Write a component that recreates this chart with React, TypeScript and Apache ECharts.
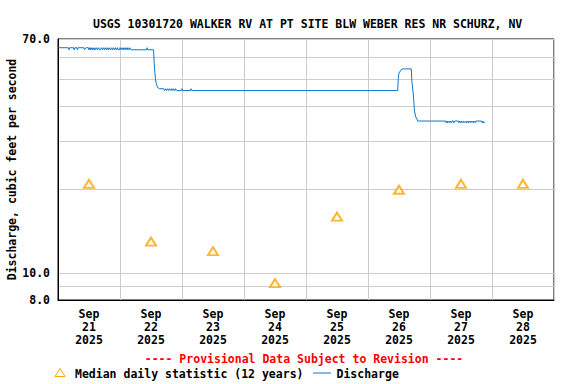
import React, { useEffect, useRef } from "react";
import * as echarts from "echarts";

const TITLE = "USGS 10301720 WALKER RV AT PT SITE BLW WEBER RES NR SCHURZ, NV";
const Y_NAME = "Discharge, cubic feet per second";
const PROVISIONAL = "---- Provisional Data Subject to Revision ----";
const LEGEND_MEDIAN = "Median daily statistic (12 years)";
const LEGEND_DISCHARGE = "Discharge";

const dayLabels = [
  "Sep\n21\n2025",
  "Sep\n22\n2025",
  "Sep\n23\n2025",
  "Sep\n24\n2025",
  "Sep\n25\n2025",
  "Sep\n26\n2025",
  "Sep\n27\n2025",
  "Sep\n28\n2025",
];

const yGridValues = [8, 9, 10, 20, 30, 40, 50, 60, 70];
const yLabelValues = [8, 10, 70];

const medianTimes = ["21 12:00", "22 12:00", "23 12:00", "24 12:00", "25 12:00", "26 12:00", "27 12:00", "28 12:00"];
const medianCfs = [21, 13, 12, 9.2, 16, 20, 21, 21];

// "DD HH:MM" in September 2025, discharge in ft3/s
const dischargeTimes = [
  "21 00:00", "21 04:00", "21 04:15", "21 04:30", "21 06:00", "21 06:15", "21 06:30",
  "21 07:15", "21 07:30", "21 07:45", "21 10:00", "21 10:15", "21 10:30", "21 10:45",
  "21 11:45", "21 12:00", "21 12:15", "21 12:30", "21 12:45",
  "21 13:15", "21 13:30", "21 14:00", "21 14:15", "21 14:30", "21 15:00", "21 15:15",
  "21 15:45", "21 16:00", "21 16:30", "21 16:45", "21 17:15", "21 17:30", "21 18:00",
  "21 18:15", "21 18:45", "21 19:00", "21 19:30", "21 19:45", "21 20:15", "21 20:45",
  "21 21:00", "21 21:30", "21 21:45", "21 22:15", "21 22:30", "21 23:00", "21 23:15",
  "21 23:45", "22 00:00", "22 00:30", "22 00:45", "22 01:15", "22 01:30", "22 02:00",
  "22 02:15", "22 02:45", "22 03:00", "22 03:30", "22 03:45", "22 04:15",
  "22 10:15", "22 10:30", "22 10:45", "22 13:00",
  "22 13:15", "22 13:30", "22 13:45", "22 14:00", "22 14:15", "22 14:30", "22 14:45", "22 15:15",
  "22 17:00", "22 17:15", "22 17:45", "22 18:00", "22 18:30", "22 18:45", "22 19:15",
  "22 19:45", "22 20:00", "22 20:30", "22 20:45", "22 21:15", "22 21:30", "22 22:00",
  "22 22:15", "22 23:45", "23 00:00", "23 00:15", "23 03:15", "23 03:30", "23 03:45",
  "26 11:30", "26 11:45", "26 12:00", "26 12:30", "26 13:15", "26 16:45",
  "26 17:00", "26 17:30", "26 18:00", "26 18:30", "26 19:00", "26 19:15",
  "27 06:00", "27 06:15", "27 06:30", "27 06:45", "27 07:00", "27 07:30", "27 07:45",
  "27 08:15", "27 08:30", "27 09:00", "27 09:15", "27 09:30", "27 11:00", "27 11:15",
  "27 11:30", "27 12:00", "27 12:15", "27 12:45", "27 13:00", "27 13:30", "27 14:00",
  "27 14:15", "27 14:45", "27 15:00", "27 15:30", "27 15:45", "27 16:15", "27 16:45",
  "27 17:00", "27 17:30", "27 17:45", "27 20:00", "27 20:15", "27 20:30", "27 20:45",
  "27 21:15",
];
const dischargeCfs = [
  65.1, 65.1, 64.0, 65.1, 65.1, 64.0, 65.1,
  65.1, 64.0, 65.1, 65.1, 64.0, 64.0, 65.1,
  65.1, 64.0, 65.1, 64.0, 65.1,
  64.0, 65.1, 64.0, 65.1, 64.0, 65.1, 64.0,
  65.1, 64.0, 64.0, 65.1, 64.0, 65.1, 64.0,
  65.1, 64.0, 65.1, 64.0, 65.1, 64.0, 65.1,
  64.0, 65.1, 64.0, 65.1, 64.0, 65.1, 64.0,
  64.0, 65.1, 64.0, 65.1, 64.0, 65.1, 64.0,
  65.1, 64.0, 65.1, 64.0, 65.1, 64.0,
  64.0, 65.1, 64.0, 64.0,
  57.0, 52.8, 50.0, 48.5, 47.7, 47.0, 46.6, 46.3,
  46.3, 45.6, 46.3, 45.6, 46.3, 45.6, 46.3,
  45.6, 46.3, 45.6, 46.3, 45.6, 46.3, 45.6,
  45.6, 45.6, 46.3, 45.6, 45.6, 46.3, 45.6,
  45.6, 50.7, 52.8, 53.6, 54.6, 54.6,
  49.0, 44.7, 38.4, 36.6, 36.0, 35.4,
  35.4, 34.9, 35.4, 34.9, 35.4, 34.9, 35.4,
  34.9, 35.4, 35.4, 34.9, 35.4, 35.4, 34.9,
  35.4, 34.9, 35.4, 34.9, 35.4, 34.9, 35.4,
  34.9, 35.4, 34.9, 35.4, 34.9, 35.4, 34.9,
  35.4, 34.9, 35.4, 35.4, 34.9, 35.4, 34.9,
  34.9,
];

const hoursFromStart = (s: string): number => {
  const [d, hm] = s.split(" ");
  const [h, m] = hm.split(":").map(Number);
  return (Number(d) - 21) * 24 + h + m / 60;
};

const FONT = "DejaVu Sans Mono";
const FS = 11.5;
const ORANGE = "#ffa500";
const BLUE = "#0a78cc";
const GRID_GREY = "#cccccc";

export default function App() {
  const ref = useRef<HTMLDivElement>(null);

  useEffect(() => {
    if (!ref.current) return;
    const chart = echarts.init(ref.current, undefined, { renderer: "svg" });
    const textBase = { fontFamily: FONT, fontWeight: "bold" as const, fontSize: FS, color: "#000" };

    chart.setOption({
      animation: false,
      backgroundColor: "#ffffff",
      title: {
        text: TITLE,
        left: 88,
        top: 13,
        textStyle: textBase,
      },
      grid: {
        left: 58,
        right: 22,
        top: 39,
        bottom: 84,
        containLabel: false,
        outerBoundsMode: "none",
        show: true,
        borderColor: "#000",
        borderWidth: 1,
        backgroundColor: "transparent",
      },
      xAxis: [
        {
          type: "value",
          min: 0,
          max: 192,
          interval: 24,
          axisLine: { show: true, lineStyle: { color: "#000", width: 1 } },
          axisTick: { show: false },
          axisLabel: { show: false },
          splitLine: { show: true, lineStyle: { color: GRID_GREY, width: 1 } },
        },
        {
          type: "category",
          data: dayLabels,
          position: "bottom",
          boundaryGap: true,
          axisLine: { show: false },
          axisTick: { show: false },
          splitLine: { show: false },
          axisLabel: { ...textBase, interval: 0, lineHeight: 13, margin: 7.5 },
        },
      ],
      yAxis: {
        type: "log",
        logBase: 10,
        min: 8,
        max: 70,
        name: Y_NAME,
        nameLocation: "middle",
        nameGap: 40,
        nameMoveOverlap: false,
        nameTextStyle: textBase,
        axisLine: { show: true, lineStyle: { color: "#000", width: 1 } },
        axisTick: { show: false, customValues: yGridValues },
        axisLabel: {
          ...textBase,
          customValues: yLabelValues,
          margin: 8,
          formatter: (v: number) => Number(v).toFixed(1),
        },
        splitLine: { show: true, lineStyle: { color: GRID_GREY, width: 1 } },
      },
      series: [
        {
          type: "line",
          name: LEGEND_DISCHARGE,
          xAxisIndex: 0,
          data: dischargeTimes.map((t, i) => [hoursFromStart(t), dischargeCfs[i]]),
          symbol: "none",
          showSymbol: false,
          lineStyle: { color: BLUE, width: 1 },
          itemStyle: { color: BLUE },
          z: 3,
        },
        {
          type: "scatter",
          name: LEGEND_MEDIAN,
          xAxisIndex: 0,
          data: medianTimes.map((t, i) => [hoursFromStart(t), medianCfs[i]]),
          symbol: "emptyTriangle",
          symbolSize: [10, 8],
          itemStyle: { color: ORANGE, borderColor: ORANGE, borderWidth: 1 },
          z: 4,
        },
      ],
      graphic: [
        {
          type: "text",
          x: 304,
          y: 358.5,
          style: {
            text: PROVISIONAL,
            font: `bold ${FS}px "${FONT}"`,
            fill: "#ff0000",
            textAlign: "center",
            textVerticalAlign: "middle",
          },
        },
        {
          type: "polygon",
          shape: { points: [[55, 376.5], [60, 368.5], [65, 376.5]] },
          style: { fill: "#ffffff", stroke: ORANGE, lineWidth: 1 },
        },
        {
          type: "text",
          x: 75,
          y: 373.5,
          style: {
            text: LEGEND_MEDIAN,
            font: `bold ${FS}px "${FONT}"`,
            fill: "#000",
            textAlign: "left",
            textVerticalAlign: "middle",
          },
        },
        {
          type: "line",
          shape: { x1: 313, y1: 373, x2: 331, y2: 373 },
          style: { stroke: BLUE, lineWidth: 1 },
        },
        {
          type: "text",
          x: 336.5,
          y: 373.5,
          style: {
            text: LEGEND_DISCHARGE,
            font: `bold ${FS}px "${FONT}"`,
            fill: "#000",
            textAlign: "left",
            textVerticalAlign: "middle",
          },
        },
      ],
    });

    return () => chart.dispose();
  }, []);

  return (
    <div
      ref={ref}
      style={{ position: "fixed", left: 0, top: 0, width: 576, height: 384, background: "#fff" }}
    />
  );
}
